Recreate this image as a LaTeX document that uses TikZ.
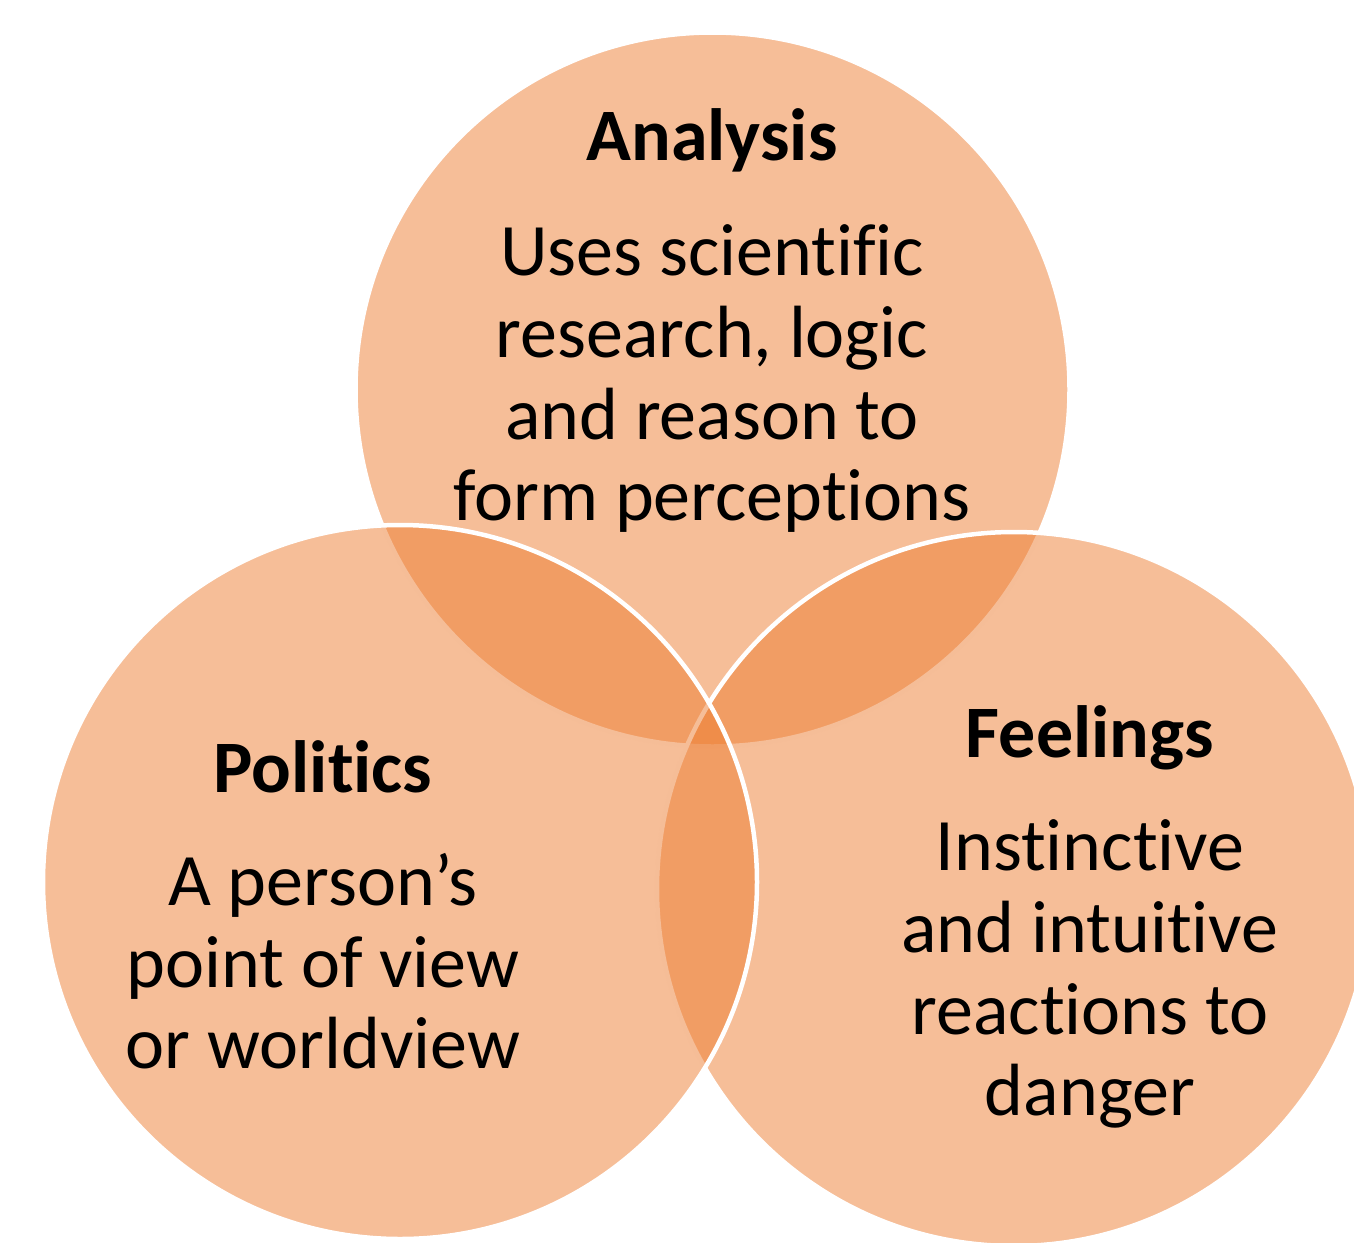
\documentclass[tikz,border=0pt]{standalone}
\usepackage{fontspec}
\setmainfont{Carlito}[Ligatures={NoCommon}]
\definecolor{vennorange}{HTML}{ED7D31}
\begin{document}
\begin{tikzpicture}[x=1pt,y=-1pt,
  venn/.style={circle, inner sep=0pt, outer sep=0pt, minimum size=714pt,
    fill=vennorange, fill opacity=0.5, draw=white, line width=4.5pt},
  head/.style={anchor=base, inner sep=0pt, font=\fontsize{74}{82}\selectfont\bfseries},
  body/.style={anchor=base, inner sep=0pt, font=\fontsize{74}{82}\selectfont}]
\useasboundingbox (0,0) rectangle (1354,1242);

% three overlapping sets, drawn top, right, left
\node[venn] (analysis) at (712.5,389.5) {};
\node[venn] (feelings) at (1014,889) {};
\node[venn] (politics) at (400,882) {};

% Analysis
\node[head] (atitle) at (712,160) {Analysis};
\node[body] (a1) at (712,275) {Uses scientific};
\node[body] (a2) at (712,357) {research, logic};
\node[body] (a3) at (712,439) {and reason to};
\node[body] (a4) at (712,520) {form perceptions};

% Politics
\node[head] (ptitle) at (323,792) {Politics};
\node[body] (p1) at (323,905) {A person’s};
\node[body] (p2) at (323,987) {point of view};
\node[body] (p3) at (323,1068) {or worldview};

% Feelings
\node[head] (ftitle) at (1090,757) {Feelings};
\node[body] (f1) at (1090,870) {Instinctive};
\node[body] (f2) at (1090,952) {and intuitive};
\node[body] (f3) at (1090,1034) {reactions to};
\node[body] (f4) at (1090,1115) {danger};
\end{tikzpicture}
\end{document}
